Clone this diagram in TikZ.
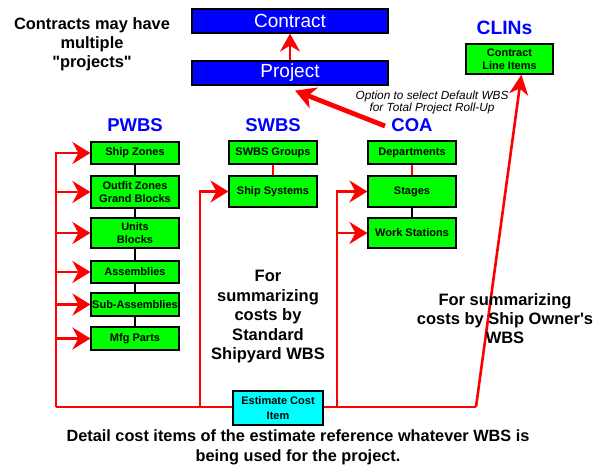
\documentclass[tikz,border=0pt]{standalone}
\usepackage{fontspec}
\setmainfont{Liberation Sans}
% same face without TeX quote ligatures, so " and ' stay straight
\newfontfamily\plainsans{Liberation Sans}
\usetikzlibrary{arrows.meta,calc}

\definecolor{boxgreen}{RGB}{0,255,0}
\definecolor{boxblue}{RGB}{0,0,255}
\definecolor{boxcyan}{RGB}{0,255,255}
\definecolor{wirered}{RGB}{255,0,0}

\tikzset{
  greenbox/.style={draw=black, line width=1.2pt, fill=boxgreen, minimum width=88pt,
    inner sep=0pt, align=center, font=\plainsans\fontsize{11}{13}\selectfont\bfseries},
  bluebox/.style={draw=black, line width=1.2pt, fill=boxblue, minimum width=196pt,
    minimum height=24pt, inner sep=0pt, text=white,
    font=\plainsans\fontsize{19}{22}\selectfont},
  heading/.style={text=boxblue, font=\plainsans\fontsize{18.5}{22}\selectfont\bfseries},
  note/.style={align=center, font=\plainsans\fontsize{16.5}{19.5}\selectfont\bfseries},
  wire/.style={draw=wirered, line width=2.6pt},
  feed/.style={wire, -{Stealth[length=18pt,width=22pt,inset=6pt]}},
  link/.style={line width=2.6pt},
}

\begin{document}
\begin{tikzpicture}[x=1pt,y=-1pt]
  \fill[white] (0,0) rectangle (594,466);
  \useasboundingbox (0,0) rectangle (594,466);

  % contract / project
  \node[bluebox] (contract) at (290,21) {Contract};
  \node[bluebox] (project)  at (290,73) {Project};
  \draw[wire, -{Stealth[length=18pt,width=20pt,inset=6pt]}] (project.north) -- (contract.south);

  \node[align=center, font=\plainsans\fontsize{16.4}{19}\selectfont\bfseries] (multi) at (92,44)
    {Contracts may have\\multiple\\"projects"};

  % headings
  \node[heading] (pwbsh) at (135,125) {PWBS};
  \node[heading] (swbsh) at (273,125) {SWBS};
  \node[heading] (coah)  at (412,125) {COA};
  \node[heading, font=\plainsans\fontsize{19.3}{22}\selectfont\bfseries] (clinh) at (504.5,27.5) {CLINs};

  % PWBS column
  \node[greenbox, minimum height=22pt] (sz)  at (135,153)   {Ship Zones};
  \node[greenbox, minimum height=32pt] (oz)  at (135,192)   {Outfit Zones\\Grand Blocks};
  \node[greenbox, minimum height=30pt] (ub)  at (135,233)   {Units\\Blocks};
  \node[greenbox, minimum height=22pt] (as)  at (135,272)   {Assemblies};
  \node[greenbox, minimum height=23pt] (sa)  at (135,304.5) {Sub-Assemblies};
  \node[greenbox, minimum height=23pt] (mp)  at (135,338.5) {Mfg Parts};
  \draw[link] (sz.south) -- (oz.north);
  \draw[link] (oz.south) -- (ub.north);
  \draw[link] (ub.south) -- (as.north);
  \draw[link] (as.south) -- (sa.north);
  \draw[link] (sa.south) -- (mp.north);

  % SWBS column
  \node[greenbox, minimum height=23pt] (sg) at (273,152.5) {SWBS Groups};
  \node[greenbox, minimum height=31pt] (ss) at (273,191.5) {Ship Systems};
  \draw[link, draw=wirered] (sg.south) -- (ss.north);

  % COA column
  \node[greenbox, minimum height=23pt] (dp) at (412,152.5) {Departments};
  \node[greenbox, minimum height=31pt] (st) at (412,191.5) {Stages};
  \node[greenbox, minimum height=30pt] (ws) at (412,233)   {Work Stations};
  \draw[link, draw=wirered] (dp.south) -- (st.north);
  \draw[link] (st.south) -- (ws.north);

  % CLIN box
  \node[greenbox, minimum width=87pt, minimum height=30pt] (clin) at (509.5,59)
    {Contract\\Line Items};

  % estimate cost item
  \node[greenbox, fill=boxcyan, minimum width=90pt, minimum height=34pt,
        font=\plainsans\fontsize{11}{15}\selectfont\bfseries] (eci) at (278,408)
    {Estimate Cost\\Item};

  % bus junctions
  \coordinate (pL) at (56,407);
  \coordinate (sL) at (200,407);
  \coordinate (cL) at (337,407);
  \coordinate (oR) at (476,407);

  \draw[wire] (eci.west |- pL) -- (pL);
  \draw[wire] (eci.east |- oR) -- (oR);
  \draw[feed] (pL) |- (sz.west);
  \draw[feed] (pL |- oz.west) -- (oz.west);
  \draw[feed] (pL |- ub.west) -- (ub.west);
  \draw[feed] (pL |- as.west) -- (as.west);
  \draw[feed] (pL |- sa.west) -- (sa.west);
  \draw[feed] (pL |- mp.west) -- (mp.west);
  \draw[feed] (sL) |- (ss.west);
  \draw[feed] (cL) |- (st.west);
  \draw[feed] (cL |- ws.west) -- (ws.west);
  \draw[wire, -{Stealth[length=20pt,width=19pt,inset=6pt]}]
    (oR) -- ($(clin.south)!0.27!(clin.south east)$);

  % default roll-up option
  \coordinate (optstart) at (385,126);
  \draw[draw=wirered, line width=4.8pt, -{Stealth[length=20pt,width=22pt,inset=6pt]}]
    (optstart) -- ($(project.south)+(5,5)$);
  \node[align=center, font=\plainsans\fontsize{11.8}{11.5}\selectfont\itshape] (opt) at (432,102.5)
    {Option to select Default WBS\\for Total Project Roll-Up};

  % explanatory notes
  \node[note] (stdnote) at (268,317) {For\\summarizing\\costs by\\Standard\\Shipyard WBS};
  \node[note, font=\plainsans\fontsize{16.5}{18.7}\selectfont\bfseries] (ownnote) at (505,318.5)
    {For summarizing\\costs by Ship Owner's\\WBS};
  \node[align=center, font=\plainsans\fontsize{16.3}{20}\selectfont\bfseries] (detail) at (298,447)
    {Detail cost items of the estimate reference whatever WBS is\\being used for the project.};
\end{tikzpicture}
\end{document}
